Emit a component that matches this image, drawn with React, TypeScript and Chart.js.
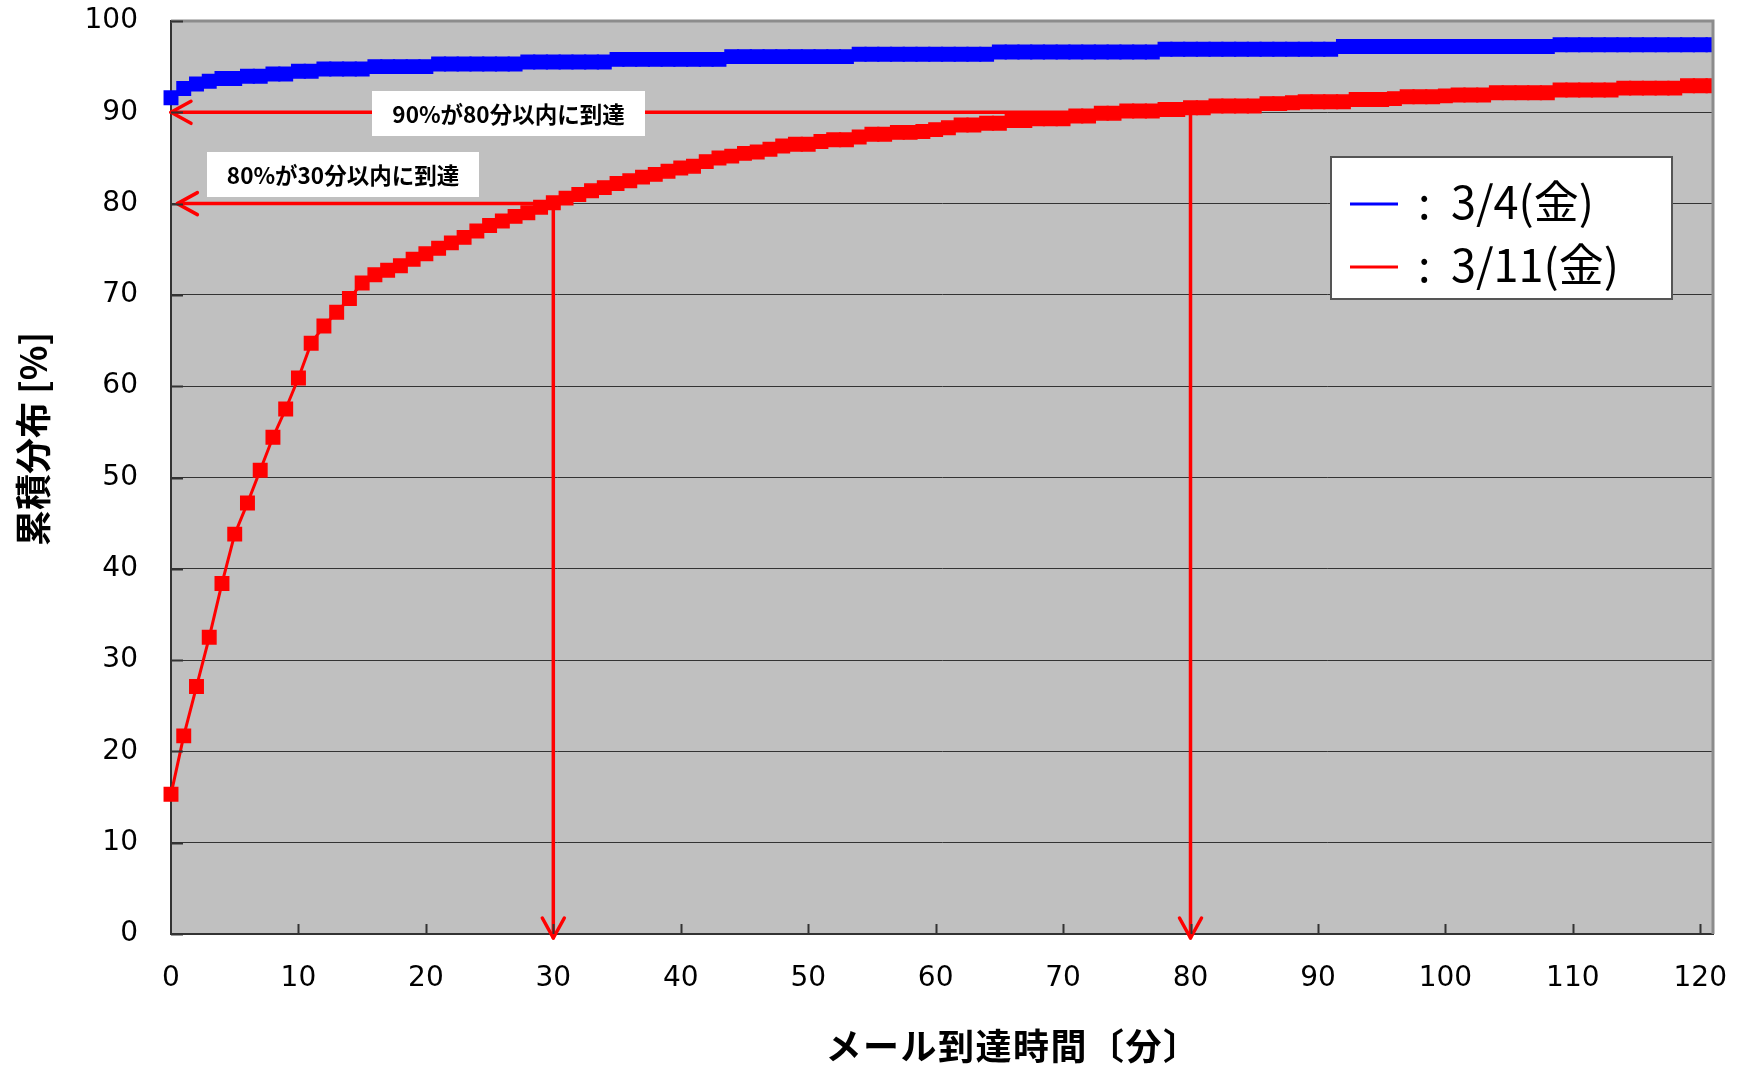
import React, { useEffect, useRef } from "react";
import { Chart, registerables } from "chart.js";

Chart.register(...registerables);

// x categories: elapsed minutes 0..121
const minutes: number[] = Array.from({ length: 122 }, (_, i) => i);

const seriesLabels = ["3/4(金)", "3/11(金)"];
const seriesColors = ["#0000ff", "#ff0000"];

// 3/4(金) cumulative distribution [%]
const blueValues: number[] = [
  91.6, 92.6, 93.1, 93.4, 93.7, 93.7, 93.95, 93.95, 94.2, 94.2,
  94.5, 94.5, 94.75, 94.75, 94.75, 94.75, 95.0, 95.0, 95.0, 95.0,
  95.0, 95.3, 95.3, 95.3, 95.3, 95.3, 95.3, 95.3, 95.5, 95.5,
  95.5, 95.5, 95.5, 95.5, 95.5, 95.8, 95.8, 95.8, 95.8, 95.8,
  95.8, 95.8, 95.8, 95.8, 96.1, 96.1, 96.1, 96.1, 96.1, 96.1,
  96.1, 96.1, 96.1, 96.1, 96.35, 96.35, 96.35, 96.35, 96.35, 96.35,
  96.35, 96.35, 96.35, 96.35, 96.35, 96.6, 96.6, 96.6, 96.6, 96.6,
  96.6, 96.6, 96.6, 96.6, 96.6, 96.6, 96.6, 96.6, 96.9, 96.9,
  96.9, 96.9, 96.9, 96.9, 96.9, 96.9, 96.9, 96.9, 96.9, 96.9,
  96.9, 96.9, 97.2, 97.2, 97.2, 97.2, 97.2, 97.2, 97.2, 97.2,
  97.2, 97.2, 97.2, 97.2, 97.2, 97.2, 97.2, 97.2, 97.2, 97.4,
  97.4, 97.4, 97.4, 97.4, 97.4, 97.4, 97.4, 97.4, 97.4, 97.4,
  97.4, 97.4,
];

// 3/11(金) cumulative distribution [%]
const redValues: number[] = [
  15.3, 21.7, 27.1, 32.5, 38.4, 43.8, 47.2, 50.8, 54.4, 57.5,
  60.9, 64.7, 66.6, 68.1, 69.6, 71.3, 72.2, 72.7, 73.2, 73.9,
  74.5, 75.1, 75.7, 76.3, 77.0, 77.6, 78.1, 78.6, 79.0, 79.6,
  80.1, 80.6, 81.0, 81.4, 81.75, 82.2, 82.5, 82.9, 83.2, 83.55,
  83.9, 84.1, 84.6, 85.0, 85.2, 85.5, 85.65, 85.95, 86.3, 86.5,
  86.5, 86.8, 87.0, 87.0, 87.3, 87.6, 87.6, 87.8, 87.8, 87.9,
  88.1, 88.3, 88.6, 88.6, 88.8, 88.8, 89.1, 89.1, 89.3, 89.3,
  89.3, 89.6, 89.6, 89.9, 89.9, 90.15, 90.15, 90.15, 90.3, 90.3,
  90.5, 90.5, 90.7, 90.7, 90.7, 90.7, 90.95, 90.95, 91.05, 91.15,
  91.15, 91.15, 91.15, 91.4, 91.4, 91.4, 91.5, 91.7, 91.7, 91.7,
  91.8, 91.9, 91.9, 91.9, 92.15, 92.15, 92.15, 92.15, 92.15, 92.45,
  92.45, 92.45, 92.45, 92.45, 92.65, 92.65, 92.65, 92.65, 92.65, 92.9,
  92.9, 92.9,
];

const xTickValues: number[] = [0, 10, 20, 30, 40, 50, 60, 70, 80, 90, 100, 110, 120];
const yTickValues: number[] = [0, 10, 20, 30, 40, 50, 60, 70, 80, 90, 100];

// guide annotations: level [%], minute reached, arrow tip minute, text
const guideLevels: number[] = [90, 80];
const guideMinutes: number[] = [80, 30];
const guideTipMinutes: number[] = [0, 0.5];
const guideTexts: string[] = ["90%が80分以内に到達", "80%が30分以内に到達"];

const xTitle = "メール到達時間〔分〕";
const yTitle = "累積分布 [%]";

const W = 1742;
const H = 1067;
const PLOT_LEFT = 171;
const PLOT_TOP = 21;
const PLOT_RIGHT = 1713;
const PLOT_BOTTOM = 934;

const NUM_FONT = '"DejaVu Sans", sans-serif';
const JP_FONT = '"Noto Sans CJK JP", sans-serif';

// label boxes (pixel layout)
const guideBoxes = [
  { x: 372, y: 91, w: 273, h: 45 },
  { x: 207, y: 152, w: 272, h: 45 },
];

function arrowHead(ctx: CanvasRenderingContext2D, tx: number, ty: number, dx: number, dy: number) {
  const along = 20;
  const across = 11;
  const px = -dy;
  const py = dx;
  ctx.beginPath();
  ctx.moveTo(tx - dx * along + px * across, ty - dy * along + py * across);
  ctx.lineTo(tx, ty);
  ctx.lineTo(tx - dx * along - px * across, ty - dy * along - py * across);
  ctx.stroke();
}

const refPlugin = {
  id: "refPlugin",
  beforeDraw(chart: any) {
    const { ctx, chartArea: a } = chart;
    ctx.save();
    ctx.fillStyle = "#ffffff";
    ctx.fillRect(0, 0, chart.width, chart.height);
    ctx.fillStyle = "#c0c0c0";
    ctx.fillRect(a.left, a.top, a.right - a.left, a.bottom - a.top);
    ctx.restore();
  },
  beforeDatasetsDraw(chart: any) {
    const { ctx } = chart;
    const xs = chart.scales.x;
    const ys = chart.scales.y;
    ctx.save();
    ctx.strokeStyle = "#ff0000";
    ctx.lineWidth = 3.5;
    ctx.lineCap = "round";
    ctx.lineJoin = "round";
    for (let i = 0; i < guideLevels.length; i++) {
      const yy = ys.getPixelForValue(guideLevels[i]);
      const xr = xs.getPixelForValue(guideMinutes[i]);
      const xt = xs.getPixelForValue(guideTipMinutes[i]);
      ctx.beginPath();
      ctx.moveTo(xr, yy);
      ctx.lineTo(xt, yy);
      ctx.stroke();
      arrowHead(ctx, xt, yy, -1, 0);
      const yb = ys.getPixelForValue(0) + 4;
      ctx.beginPath();
      ctx.moveTo(xr, yy);
      ctx.lineTo(xr, yb);
      ctx.stroke();
      arrowHead(ctx, xr, yb, 0, 1);
    }
    // label boxes
    ctx.font = `bold 22.5px ${JP_FONT}`;
    ctx.textAlign = "center";
    ctx.textBaseline = "middle";
    for (let i = 0; i < guideBoxes.length; i++) {
      const b = guideBoxes[i];
      ctx.fillStyle = "#ffffff";
      ctx.fillRect(b.x, b.y, b.w, b.h);
      ctx.fillStyle = "#000000";
      ctx.fillText(guideTexts[i], b.x + b.w / 2, b.y + b.h / 2 + 1);
    }
    ctx.restore();
  },
  afterDraw(chart: any) {
    const { ctx, chartArea: a } = chart;
    const xs = chart.scales.x;
    const ys = chart.scales.y;
    ctx.save();
    // top & right frame
    ctx.strokeStyle = "#8c8c8c";
    ctx.lineWidth = 3;
    ctx.beginPath();
    ctx.moveTo(a.left, a.top);
    ctx.lineTo(a.right, a.top);
    ctx.lineTo(a.right, a.bottom);
    ctx.stroke();
    // inward tick marks
    ctx.strokeStyle = "#333333";
    ctx.lineWidth = 2;
    for (const v of xTickValues) {
      if (v === 0) continue;
      const px = Math.round(xs.getPixelForValue(v)) + 0.5;
      ctx.beginPath();
      ctx.moveTo(px, a.bottom);
      ctx.lineTo(px, a.bottom - 10);
      ctx.stroke();
    }
    for (const v of yTickValues) {
      const py = Math.round(ys.getPixelForValue(v)) + 0.5;
      ctx.beginPath();
      ctx.moveTo(a.left, py);
      ctx.lineTo(a.left + 12, py);
      ctx.stroke();
    }
    // axis titles
    ctx.fillStyle = "#000000";
    ctx.font = `bold 36px ${JP_FONT}`;
    ctx.textAlign = "center";
    ctx.textBaseline = "middle";
    (ctx as any).letterSpacing = "1.5px";
    ctx.fillText(xTitle, 1013, 1046);
    (ctx as any).letterSpacing = "0px";
    ctx.save();
    ctx.translate(33, 439);
    ctx.rotate(-Math.PI / 2);
    ctx.fillText(yTitle, 0, 0);
    ctx.restore();
    // legend
    const lx = 1331, ly = 157, lw = 341, lh = 142;
    ctx.fillStyle = "#ffffff";
    ctx.fillRect(lx, ly, lw, lh);
    ctx.strokeStyle = "#555555";
    ctx.lineWidth = 2;
    ctx.strokeRect(lx, ly, lw, lh);
    const ds = chart.data.datasets;
    const rowLine = [204, 267];
    const rowBase = [219, 282];
    ctx.font = `45px ${JP_FONT}`;
    ctx.textAlign = "left";
    ctx.textBaseline = "alphabetic";
    for (let i = 0; i < ds.length; i++) {
      ctx.strokeStyle = ds[i].borderColor;
      ctx.lineWidth = 3;
      ctx.beginPath();
      ctx.moveTo(1350, rowLine[i]);
      ctx.lineTo(1398, rowLine[i]);
      ctx.stroke();
      ctx.fillStyle = "#000000";
      ctx.fillText(":", 1418, rowBase[i]);
      ctx.fillText(ds[i].label, 1451, rowBase[i]);
    }
    ctx.restore();
  },
};

export default function App() {
  const canvasRef = useRef<HTMLCanvasElement | null>(null);

  useEffect(() => {
    document.body.style.margin = "0";
    const canvas = canvasRef.current;
    if (!canvas) return;
    const mk = (vals: number[]) => minutes.map((m, i) => ({ x: m, y: vals[i] }));
    const common = {
      borderWidth: 3,
      pointStyle: "rect",
      pointRadius: 9.5,
      pointBorderWidth: 1.5,
      pointHoverRadius: 9.5,
      tension: 0,
      clip: { left: 12, top: 12, right: 0, bottom: 12 },
    };
    const chart = new Chart(canvas, {
      type: "line",
      data: {
        datasets: [
          {
            label: seriesLabels[0],
            data: mk(blueValues),
            borderColor: seriesColors[0],
            backgroundColor: seriesColors[0],
            ...common,
          },
          {
            label: seriesLabels[1],
            data: mk(redValues),
            borderColor: seriesColors[1],
            backgroundColor: seriesColors[1],
            ...common,
          },
        ],
      },
      options: {
        responsive: false,
        animation: false,
        devicePixelRatio: 1,
        events: [],
        layout: {
          autoPadding: false,
          padding: { left: 0, top: PLOT_TOP, right: W - PLOT_RIGHT, bottom: 0 },
        },
        plugins: {
          legend: { display: false },
          tooltip: { enabled: false },
          title: { display: false },
        },
        scales: {
          x: {
            type: "linear",
            min: 0,
            max: 121,
            afterFit: (scale: any) => {
              scale.height = H - PLOT_BOTTOM;
              scale.paddingLeft = 0;
              scale.paddingRight = 0;
              scale.paddingTop = 0;
              scale.paddingBottom = 0;
            },
            afterBuildTicks: (scale: any) => {
              scale.ticks = xTickValues.map((v) => ({ value: v }));
            },
            ticks: {
              autoSkip: false,
              maxRotation: 0,
              padding: 28,
              color: "#000000",
              font: { family: NUM_FONT, size: 28 },
            },
            grid: { display: false, drawTicks: false },
            border: { display: true, color: "#333333", width: 2 },
          },
          y: {
            type: "linear",
            min: 0,
            max: 100,
            afterFit: (scale: any) => {
              scale.width = PLOT_LEFT;
              scale.paddingLeft = 0;
              scale.paddingRight = 0;
              scale.paddingTop = 0;
              scale.paddingBottom = 0;
            },
            afterBuildTicks: (scale: any) => {
              scale.ticks = yTickValues.map((v) => ({ value: v }));
            },
            ticks: {
              padding: 33,
              color: "#000000",
              font: { family: NUM_FONT, size: 28 },
            },
            grid: { display: true, color: "#333333", lineWidth: 1, drawTicks: false },
            border: { display: true, color: "#333333", width: 2 },
          },
        },
      },
      plugins: [refPlugin],
    } as any);
    return () => chart.destroy();
  }, []);

  return (
    <div style={{ width: W, height: H, background: "#fff" }}>
      <canvas ref={canvasRef} width={W} height={H} style={{ display: "block", width: W, height: H }} />
    </div>
  );
}
